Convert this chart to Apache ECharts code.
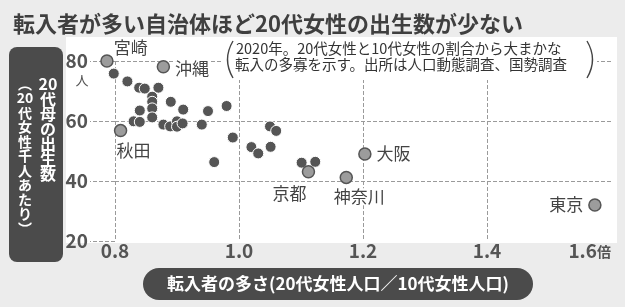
<!DOCTYPE html>
<html>
<head>
<meta charset="utf-8">
<title>転入者と出生数</title>
<script src="https://cdn.jsdelivr.net/npm/echarts@6/dist/echarts.min.js"></script>
<style>
  html, body { margin: 0; padding: 0; background: #ececec; }
  .wrapper { position: relative; width: 625px; height: 307px; }
  .panel { position: absolute; left: 66px; top: 37px; width: 551px; height: 206px; background: #fff; }
  #chart { position: absolute; left: 0; top: 0; width: 625px; height: 307px; }
</style>
</head>
<body>
<div class="wrapper">
  <div class="panel"></div>
  <div id="chart"></div>
</div>
<script>
  // 転入者の多さ(20代女性人口/10代女性人口) と 20代女性千人あたりの出生数
  const ratio = [0.798, 0.820, 0.839, 0.848, 0.870, 0.860, 0.860, 0.860, 0.860, 0.890,
                 0.910, 0.950, 0.980, 0.840, 0.830, 0.840, 0.878, 0.889, 0.900, 0.900,
                 0.909, 0.940, 0.990, 0.960, 1.020, 1.031, 1.051, 1.050, 1.060, 1.101, 1.123]
  const births = [75.8, 73.2, 71.1, 70.8, 71.1, 68.1, 66.4, 64.2, 61.2, 66.4,
                  63.8, 63.3, 65.0, 63.5, 59.9, 59.7, 58.8, 58.2, 59.9, 58.1,
                  59.2, 58.8, 54.5, 46.3, 51.3, 49.2, 51.4, 58.2, 56.7, 46.1, 46.4]

  const namedPref = ['宮崎', '沖縄', '秋田', '京都', '神奈川', '大阪', '東京']
  const namedRatio = [0.787, 0.878, 0.809, 1.112, 1.173, 1.203, 1.574]
  const namedBirths = [80.0, 78.1, 56.8, 43.1, 41.2, 49.0, 32.0]

  const xTicks = [0.8, 1.0, 1.2, 1.4, 1.6]
  const yTicks = [20, 40, 60, 80]

  // ラベルの置き場所
  const labelPos = {
    '宮崎': {position: 'right', offset: [-5, -13]},
    '沖縄': {position: 'right', offset: [0, 2]},
    '秋田': {position: 'bottom', offset: [13, 0]},
    '京都': {position: 'bottom', offset: [-19, 2]},
    '神奈川': {position: 'bottom', offset: [13, -1]},
    '大阪': {position: 'right', offset: [0, 0]},
    '東京': {position: 'left', offset: [0, 0]}
  }

  const FONT = '"Noto Sans CJK JP", "Noto Sans", sans-serif'

  const chart = echarts.init(document.getElementById('chart'))

  let option = {
    animation: false,
    title: {
      text: '転入者が多い自治体ほど20代女性の出生数が少ない',
      left: 8,
      top: 8,
      textStyle: {fontSize: 22, fontWeight: 'bold', color: '#3f3f3f', fontFamily: FONT}
    },
    grid: {left: 115, right: 14, top: 61, bottom: 66},
    xAxis: {
      type: 'value',
      min: xTicks[0],
      max: xTicks[xTicks.length - 1],
      interval: 0.2,
      axisLine: {show: false},
      axisTick: {show: false},
      splitLine: {show: true, showMaxLine: false, lineStyle: {color: '#9a9a9a', width: 1, type: 'dashed'}},
      axisLabel: {
        margin: 0,
        alignMaxLabel: 'right',
        fontSize: 19,
        fontWeight: 'bold',
        color: '#555',
        fontFamily: FONT,
        formatter: v => v >= 1.59 ? '{n|1.6}{u|倍}' : v.toFixed(1),
        rich: {
          n: {fontSize: 19, fontWeight: 'bold', color: '#555', fontFamily: FONT},
          u: {fontSize: 14, color: '#555', fontFamily: FONT, padding: [3, 0, 0, 0]}
        }
      }
    },
    yAxis: {
      type: 'value',
      min: yTicks[0],
      max: yTicks[yTicks.length - 1],
      interval: 20,
      axisLine: {show: false},
      axisTick: {show: true, length: 25, lineStyle: {color: '#9a9a9a', width: 1, type: 'dashed'}},
      splitLine: {show: true, showMinLine: false, lineStyle: {color: '#9a9a9a', width: 1, type: 'dashed'}},
      axisLabel: {
        margin: 27,
        fontSize: 19,
        fontWeight: 'bold',
        color: '#555',
        fontFamily: FONT
      }
    },
    series: [
      {
        type: 'scatter',
        clip: false,
        symbolSize: 11,
        itemStyle: {color: '#555', borderColor: '#fff', borderWidth: 1, opacity: 1},
        data: ratio.map((r, i) => [r, births[i]]),
        z: 3
      },
      {
        type: 'scatter',
        clip: false,
        symbolSize: 12,
        itemStyle: {color: '#9c9c9c', borderColor: '#555', borderWidth: 1.5, opacity: 1},
        data: namedPref.map((n, i) => ({
          name: n,
          value: [namedRatio[i], namedBirths[i]],
          label: labelPos[n]
        })),
        label: {
          show: true,
          formatter: '{b}',
          fontSize: 17,
          color: '#444',
          fontFamily: FONT,
          backgroundColor: '#fff',
          distance: 5
        },
        z: 4
      }
    ],
    graphic: [
      // 縦軸の見出し
      {type: 'rect', z: 100, shape: {x: 9, y: 47, width: 54, height: 215, r: 8}, style: {fill: '#4b4b4b'}},
      {
        type: 'text', z: 101, x: 48, y: 76,
        style: {
          text: '20\n代\n母\nの\n出\n生\n数',
          fill: '#fff', font: 'bold 16px ' + FONT, lineHeight: 15,
          textAlign: 'center', textVerticalAlign: 'top'
        }
      },
      {
        type: 'text', z: 101, x: 25, y: 76,
        style: {
          text: '︵\n20\n代\n女\n性\n千\n人\nあ\nた\nり\n︶',
          fill: '#fff', font: 'bold 14px ' + FONT, lineHeight: 14.5,
          textAlign: 'center', textVerticalAlign: 'top'
        }
      },
      {
        type: 'text', z: 101, x: 82, y: 80,
        style: {text: '人', fill: '#555', font: '13px ' + FONT, textAlign: 'center', textVerticalAlign: 'middle'}
      },
      // 横軸の見出し
      {type: 'rect', z: 100, shape: {x: 143, y: 268, width: 390, height: 32, r: 16}, style: {fill: '#4b4b4b'}},
      {
        type: 'text', z: 101, x: 338, y: 284,
        style: {
          text: '転入者の多さ(20代女性人口／10代女性人口)',
          fill: '#fff', font: 'bold 17px ' + FONT,
          textAlign: 'center', textVerticalAlign: 'middle'
        }
      },
      // 注記
      {type: 'rect', z: 100, shape: {x: 222, y: 39, width: 375, height: 41}, style: {fill: '#fff'}},
      {
        type: 'text', z: 101, x: 236, y: 48,
        style: {text: '2020年。20代女性と10代女性の割合から大まかな', fill: '#333', font: '14.5px ' + FONT, textVerticalAlign: 'middle'}
      },
      {
        type: 'text', z: 101, x: 235, y: 64,
        style: {text: '転入の多寡を示す。出所は人口動態調査、国勢調査', fill: '#333', font: '14.5px ' + FONT, textVerticalAlign: 'middle'}
      },
      {
        type: 'bezierCurve', z: 101,
        shape: {x1: 233, y1: 41, x2: 233, y2: 78, cpx1: 222, cpy1: 59.5},
        style: {stroke: '#444', lineWidth: 1.4, fill: 'none'}
      },
      {
        type: 'bezierCurve', z: 101,
        shape: {x1: 587, y1: 41, x2: 587, y2: 78, cpx1: 598, cpy1: 59.5},
        style: {stroke: '#444', lineWidth: 1.4, fill: 'none'}
      }
    ]
  }

  chart.setOption(option)
  window.addEventListener('resize', () => chart.resize(), false)
</script>
</body>
</html>
